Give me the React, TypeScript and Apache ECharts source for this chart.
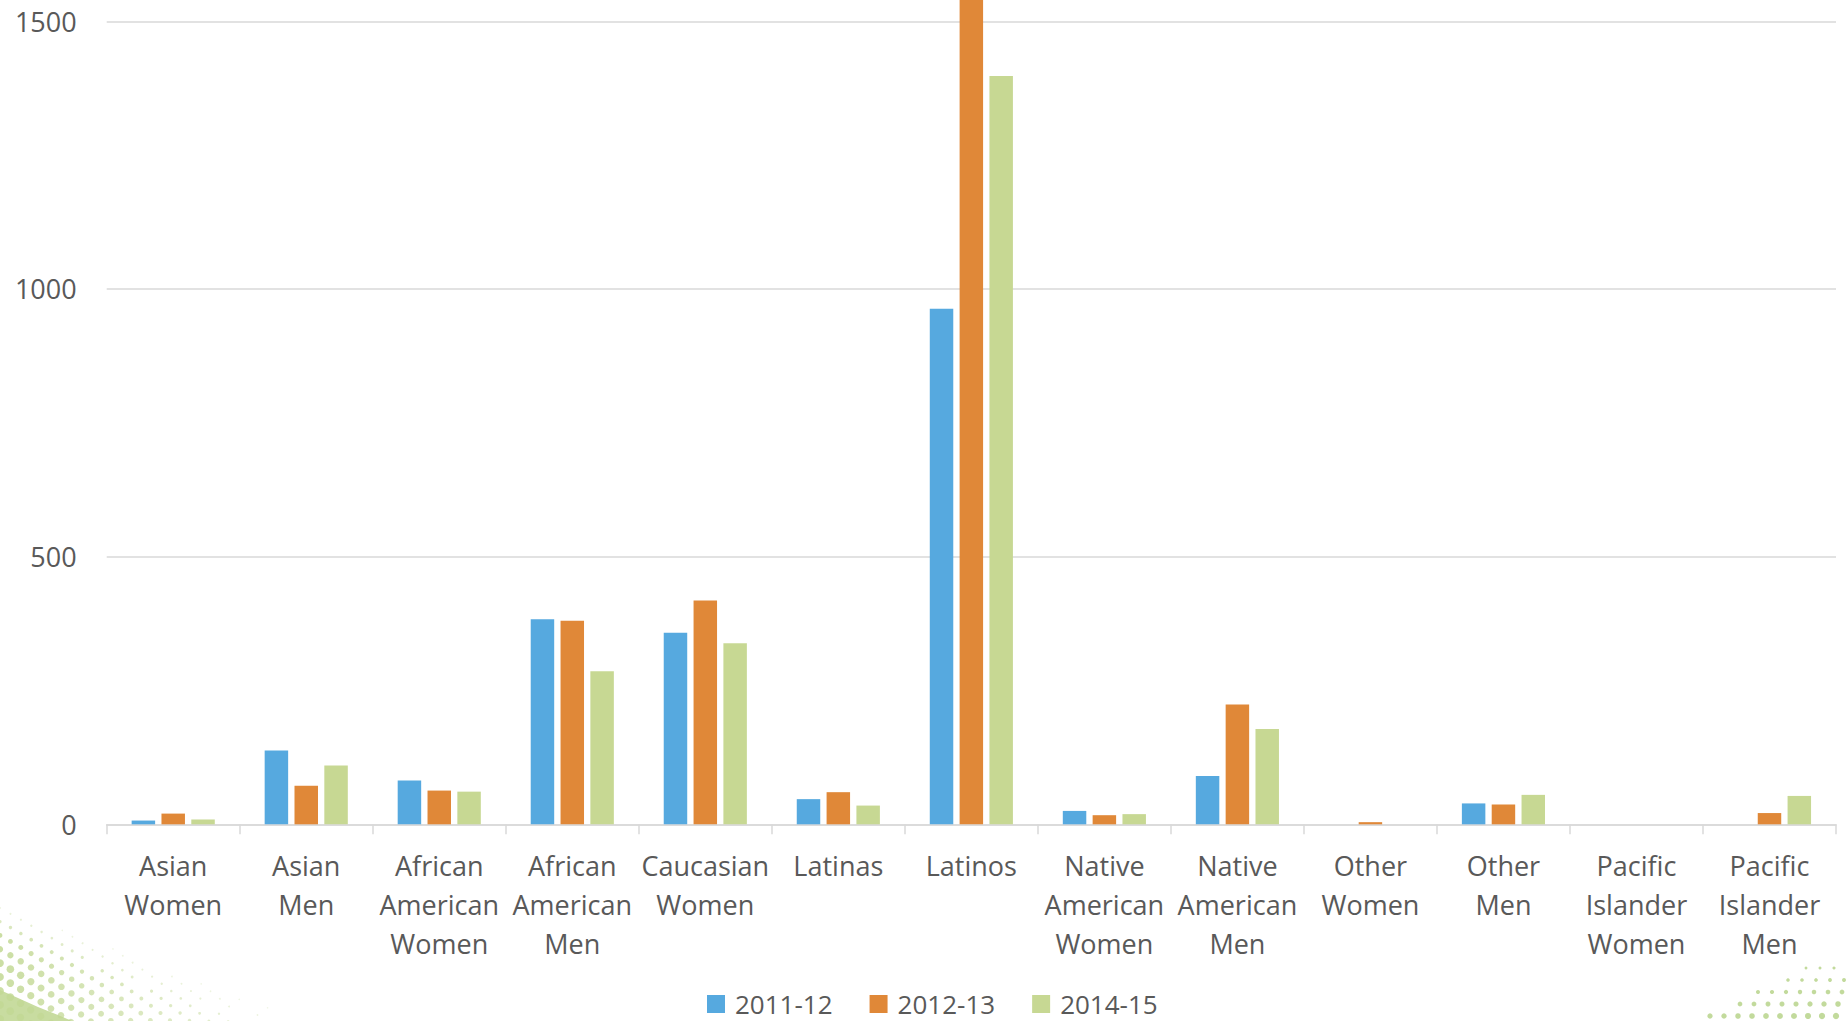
import React, { useEffect, useRef } from "react";
import * as echarts from "echarts";

const categories = [
  "Asian Women",
  "Asian Men",
  "African American Women",
  "African American Men",
  "Caucasian Women",
  "Latinas",
  "Latinos",
  "Native American Women",
  "Native American Men",
  "Other Women",
  "Other Men",
  "Pacific Islander Women",
  "Pacific Islander Men",
];

const seriesNames = ["2011-12", "2012-13", "2014-15"];
const values2011 = [7, 138, 82, 383, 358, 47, 963, 25, 90, 0, 39, 0, 0];
const values2012 = [20, 72, 63, 380, 418, 60, 1700, 17, 224, 4, 37, 0, 21];
const values2014 = [9, 110, 61, 286, 338, 35, 1398, 19, 178, 0, 55, 0, 53];
const seriesColors = ["#56A9DF", "#E08838", "#C7D893"];
const yTicks = [0, 500, 1000, 1500];

const FONT = "'Open Sans', 'Noto Sans', sans-serif";
const W = 1847;
const H = 1021;

function decorations(): any[] {
  const els: any[] = [];
  // bottom-left solid wedge
  els.push({
    type: "polygon",
    silent: true,
    z: -10,
    shape: {
      points: [
        [0, 990],
        [18, 998],
        [38, 1007],
        [58, 1015],
        [72, 1021],
        [0, 1021],
      ],
    },
    style: { fill: "#C8DCA0" },
  });
  // bottom-left halftone arcs
  const cx = -600;
  const cy = 2000;
  for (let k = 0; k < 18; k++) {
    const r = 1150 + k * 12;
    const c0 = Math.min(1, 600 / r);
    let phi = Math.acos(c0);
    const dphi = 12 / r;
    let guard = 0;
    while (guard++ < 200) {
      const x = cx + r * Math.cos(phi);
      const y = cy - r * Math.sin(phi);
      if (y > H + 4 || x > 460) break;
      const boundary = 905 + x * 0.38;
      if (y > boundary) {
        const d = y - boundary;
        const t = Math.max(0, Math.min(1, x / 330));
        const rad = 0.7 + Math.min(3.2, d / 18) * (1 - t);
        els.push({
          type: "circle",
          silent: true,
          z: -10,
          shape: { cx: x, cy: y, r: rad },
          style: {
            fill: "#C2D894",
            opacity: 0.25 + 0.6 * (1 - t) * Math.min(1, d / 30),
          },
        });
      }
      phi -= dphi;
    }
  }
  // bottom-right halftone
  for (let row = 0; row < 5; row++) {
    const y = 968 + row * 12;
    const xStart = 1808 - (y - 967) * 2;
    for (let x = xStart + (row % 2) * 6; x < W; x += 14) {
      const t = Math.min(1, (x - 1700) / 147);
      const rad = 1 + 1.6 * (row / 4) + 0.6 * t;
      els.push({
        type: "circle",
        silent: true,
        z: -10,
        shape: { cx: x, cy: y, r: rad },
        style: { fill: "#B7D38B", opacity: 0.85 },
      });
    }
  }
  return els;
}

export default function App() {
  const ref = useRef<HTMLDivElement>(null);

  useEffect(() => {
    if (!ref.current) return;
    document.body.style.margin = "0";
    const chart = echarts.init(ref.current, undefined, { renderer: "svg" });
    const data = [values2011, values2012, values2014];
    const option: any = {
      animation: false,
      backgroundColor: "#FFFFFF",
      textStyle: { fontFamily: FONT },
      grid: {
        left: 106.7,
        right: 11,
        top: 21.3,
        bottom: 196.7,
        containLabel: false,
      },
      legend: {
        data: seriesNames,
        left: 702,
        top: 986,
        icon: "rect",
        itemWidth: 18,
        itemHeight: 18,
        itemGap: 37,
        textStyle: {
          fontFamily: FONT,
          fontSize: 26,
          color: "#595959",
          lineHeight: 26,
          padding: [0, 0, 0, 5],
        },
      },
      xAxis: {
        type: "category",
        data: categories,
        boundaryGap: true,
        axisLine: { lineStyle: { color: "#D9D9D9", width: 1.5 } },
        axisTick: { show: true, length: 10, lineStyle: { color: "#D9D9D9", width: 1.5 } },
        axisLabel: {
          interval: 0,
          margin: 22,
          fontFamily: FONT,
          fontSize: 27,
          lineHeight: 39,
          color: "#595959",
          formatter: (v: string) => v.split(" ").join("\n"),
        },
        splitLine: { show: false },
      },
      yAxis: {
        type: "value",
        min: yTicks[0],
        max: yTicks[yTicks.length - 1],
        interval: yTicks[1] - yTicks[0],
        axisLine: { show: false },
        axisTick: { show: false },
        axisLabel: {
          margin: 30,
          fontFamily: FONT,
          fontSize: 27,
          color: "#595959",
          formatter: (v: number) => String(v),
        },
        splitLine: { lineStyle: { color: "#D9D9D9", width: 1.5 } },
      },
      series: seriesNames.map((name, i) => ({
        name,
        type: "bar",
        data: data[i],
        clip: false,
        barGap: "27%",
        barCategoryGap: "37.5%",
        itemStyle: { color: seriesColors[i] },
      })),
      graphic: decorations(),
    };
    chart.setOption(option);
    return () => chart.dispose();
  }, []);

  return (
    <div
      ref={ref}
      style={{ position: "absolute", left: 0, top: 0, width: W, height: H }}
    />
  );
}
